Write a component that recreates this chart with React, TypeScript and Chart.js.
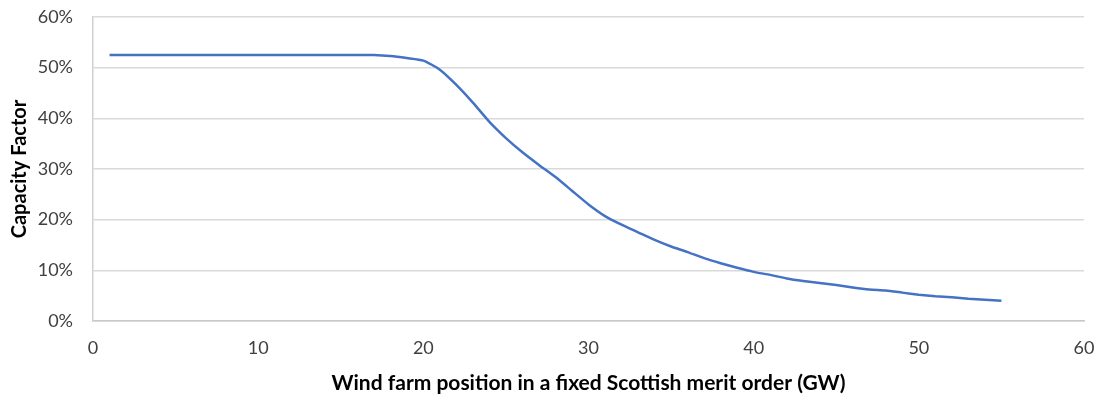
import React, { useEffect, useRef } from "react";
import { Chart, registerables } from "chart.js";

Chart.register(...registerables);

const positionsGW: number[] = [
  1, 2, 3, 4, 5, 6, 7, 8, 9, 10, 11, 12, 13, 14, 15, 16, 17, 18, 19, 20,
  21, 22, 23, 24, 25, 26, 27, 28, 29, 30, 31, 32, 33, 34, 35, 36, 37, 38, 39, 40,
  41, 42, 43, 44, 45, 46, 47, 48, 49, 50, 51, 52, 53, 54, 55,
];

const capacityFactorPct: number[] = [
  52.5, 52.5, 52.5, 52.5, 52.5, 52.5, 52.5, 52.5, 52.5, 52.5,
  52.5, 52.5, 52.5, 52.5, 52.5, 52.5, 52.5, 52.3, 51.9, 51.4,
  49.6, 46.6, 43.1, 39.3, 36.1, 33.3, 30.8, 28.4, 25.7, 23.0,
  20.7, 19.0, 17.5, 16.0, 14.7, 13.6, 12.4, 11.4, 10.5, 9.7,
  9.1, 8.4, 7.9, 7.5, 7.1, 6.6, 6.2, 6.0, 5.6, 5.2,
  4.9, 4.7, 4.4, 4.2, 4.0,
];

const xTitle = "Wind farm position in a fixed Scottish merit order (GW)";
const yTitle = "Capacity Factor";

export default function App() {
  const ref = useRef<HTMLCanvasElement | null>(null);

  useEffect(() => {
    if (!ref.current) return;
    const font = "Lato, 'Open Sans', sans-serif";
    const chart = new Chart(ref.current, {
      type: "line",
      data: {
        datasets: [
          {
            data: positionsGW.map((x, i) => ({ x, y: capacityFactorPct[i] })),
            borderColor: "#4472C4",
            borderWidth: 2.5,
            pointRadius: 0,
            tension: 0.2,
            fill: false,
          },
        ],
      },
      options: {
        animation: false,
        responsive: false,
        maintainAspectRatio: false,
        devicePixelRatio: 1,
        layout: { padding: { top: 17, right: 18, left: 0, bottom: 0 } },
        plugins: { legend: { display: false }, tooltip: { enabled: false } },
        scales: {
          x: {
            type: "linear",
            min: 0,
            max: 60,
            ticks: {
              stepSize: 10,
              padding: 16,
              color: "#404040",
              font: { family: font, size: 18 },
            },
            grid: { display: false, drawTicks: false },
            border: { display: true, color: "#C8C8C8", width: 1.5 },
            title: {
              display: true,
              text: xTitle,
              color: "#000000",
              font: { family: font, size: 21, weight: "bold" },
              padding: { top: 0, bottom: 4 },
            },
            afterFit: (s: any) => {
              s.height = 400 - 321;
              s.paddingLeft = 0;
              s.paddingRight = 0;
            },
          },
          y: {
            min: 0,
            max: 60,
            ticks: {
              stepSize: 10,
              padding: 20,
              color: "#404040",
              font: { family: font, size: 18 },
              callback: (v: any) => `${v}%`,
            },
            grid: { color: "#D9D9D9", lineWidth: 1.5, drawTicks: false },
            border: { display: true, color: "#D0D0D0", width: 1.5 },
            title: {
              display: true,
              text: yTitle,
              color: "#000000",
              font: { family: font, size: 20, weight: "bold" },
              padding: { top: 8, bottom: 0 },
            },
            afterFit: (s: any) => {
              s.width = 93;
              s.paddingTop = 0;
              s.paddingBottom = 0;
            },
          },
        },
      },
    });
    return () => chart.destroy();
  }, []);

  return (
    <div style={{ position: "absolute", left: 0, top: 0, width: 1102, height: 400, background: "#fff" }}>
      <canvas ref={ref} width={1102} height={400} style={{ width: 1102, height: 400 }} />
    </div>
  );
}
